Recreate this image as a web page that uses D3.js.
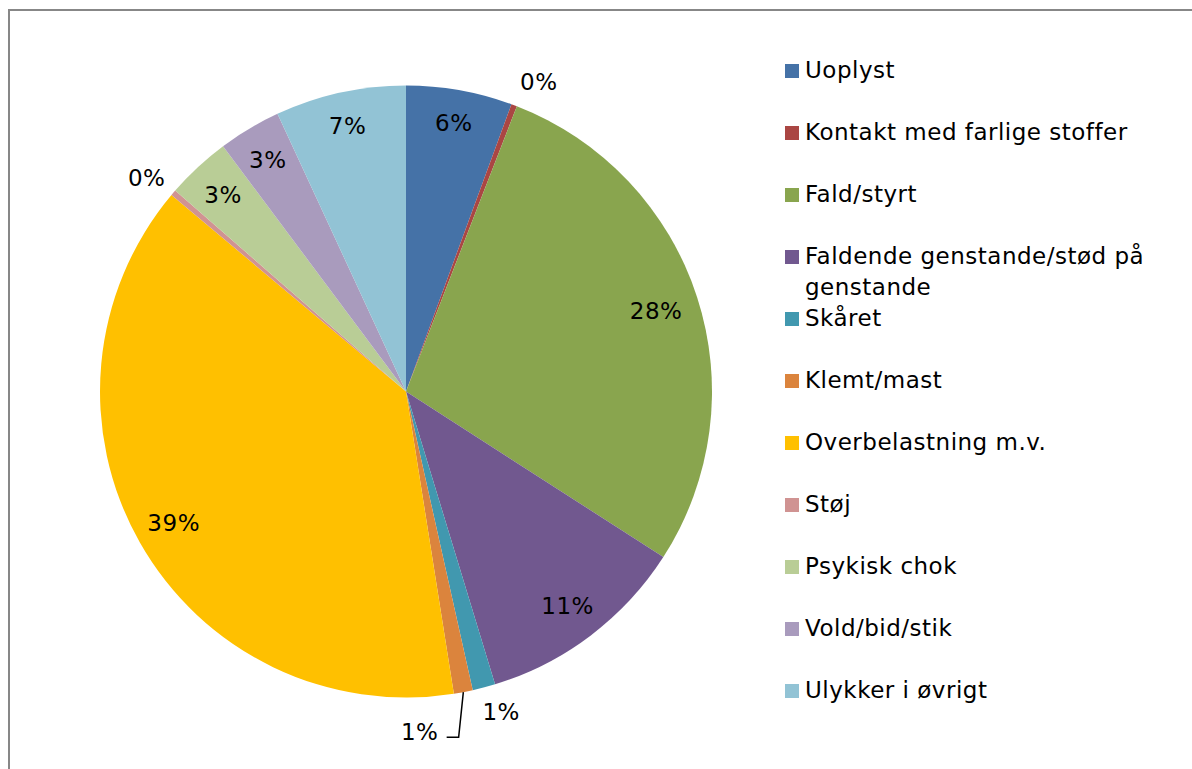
<!DOCTYPE html>
<html>
<head>
<meta charset="utf-8">
<script src="https://cdn.jsdelivr.net/npm/d3@7.9.0/dist/d3.min.js"></script>
<style>
  html, body { margin: 0; padding: 0; background: #fff; }
  svg { display: block; font-family: "DejaVu Sans", Verdana, sans-serif; }
  text { font-size: 23px; letter-spacing: 0.5px; fill: #000; }
</style>
</head>
<body>
<svg id="chart" width="1192" height="769"></svg>
<script>
// Data (percent of injuries by cause)
const categories = [
  'Uoplyst',
  'Kontakt med farlige stoffer',
  'Fald/styrt',
  'Faldende genstande/stød på genstande',
  'Skåret',
  'Klemt/mast',
  'Overbelastning m.v.',
  'Støj',
  'Psykisk chok',
  'Vold/bid/stik',
  'Ulykker i øvrigt'
];
const values = [5.6, 0.3, 28.2, 11.2, 1.2, 1.0, 38.6, 0.3, 3.4, 3.3, 6.9];
const colors = ['#4572A7', '#AA4643', '#89A54E', '#71588F', '#4198AF', '#DB843D',
                '#FFC000', '#D09392', '#B9CD96', '#A99BBD', '#92C3D5'];
// legend text lines (wrapped like the original)
const legendLines = [
  ['Uoplyst'], ['Kontakt med farlige stoffer'], ['Fald/styrt'],
  ['Faldende genstande/stød på', 'genstande'], ['Skåret'], ['Klemt/mast'],
  ['Overbelastning m.v.'], ['Støj'], ['Psykisk chok'], ['Vold/bid/stik'], ['Ulykker i øvrigt']
];

// label placement: radius from centre and small angle nudge (degrees)
const labelRadius = [273, 337, 263, 268, 334, 340, 267, 336, 269, 270, 272];
const labelNudge  = [0, 2.5, 0, 0, -1.8, 8.5, 0, -1, 0, 0, 0];

const svg = d3.select('#chart');

// outer frame
svg.append('rect')
  .attr('x', 9).attr('y', 10)
  .attr('width', 1400).attr('height', 1000)
  .attr('fill', 'none')
  .attr('stroke', '#878787')
  .attr('stroke-width', 2);

const cx = 406, cy = 391.5, R = 306;
const g = svg.append('g').attr('transform', `translate(${cx},${cy})`);

const total = d3.sum(values);
const pie = d3.pie().sort(null).value(d => d);
const arcs = pie(values);
const arc = d3.arc().innerRadius(0).outerRadius(R);

g.selectAll('path.slice')
  .data(arcs)
  .join('path')
  .attr('class', 'slice')
  .attr('d', arc)
  .attr('fill', (d, i) => colors[i]);

const fmt = v => Math.round(v / total * 100) + '%';
const rad = Math.PI / 180;

function labelPos(d, i) {
  const a = (d.startAngle + d.endAngle) / 2 + labelNudge[i] * rad;
  const r = labelRadius[i];
  return [r * Math.sin(a), -r * Math.cos(a)];
}

// leader line for the small "Klemt/mast" slice
const leaderIdx = 5;
{
  const d = arcs[leaderIdx];
  const a = (d.startAngle + d.endAngle) / 2;
  const [lx, ly] = labelPos(d, leaderIdx);
  const pts = [
    [R * Math.sin(a), -R * Math.cos(a)],
    [lx + 39, ly + 6],
    [lx + 27, ly + 6]
  ];
  g.append('path')
    .attr('d', d3.line()(pts))
    .attr('fill', 'none')
    .attr('stroke', '#000')
    .attr('stroke-width', 1.5);
}

g.selectAll('text.pct')
  .data(arcs)
  .join('text')
  .attr('class', 'pct')
  .attr('x', (d, i) => labelPos(d, i)[0])
  .attr('y', (d, i) => labelPos(d, i)[1])
  .attr('dy', '0.36em')
  .attr('text-anchor', 'middle')
  .text(d => fmt(d.data));

// legend
const legendY = d3.scaleLinear().domain([0, 1]).range([78, 140]);
const legend = svg.append('g');
const items = legend.selectAll('g.item')
  .data(categories)
  .join('g')
  .attr('class', 'item')
  .attr('transform', (d, i) => `translate(0,${legendY(i)})`);

items.append('rect')
  .attr('x', 785).attr('y', -14)
  .attr('width', 14).attr('height', 14)
  .attr('fill', (d, i) => colors[i]);

items.append('text')
  .attr('x', 805)
  .attr('y', 0)
  .selectAll('tspan')
  .data((d, i) => legendLines[i])
  .join('tspan')
  .attr('x', 805)
  .attr('dy', (d, j) => j === 0 ? 0 : 31)
  .text(d => d);
</script>
</body>
</html>
